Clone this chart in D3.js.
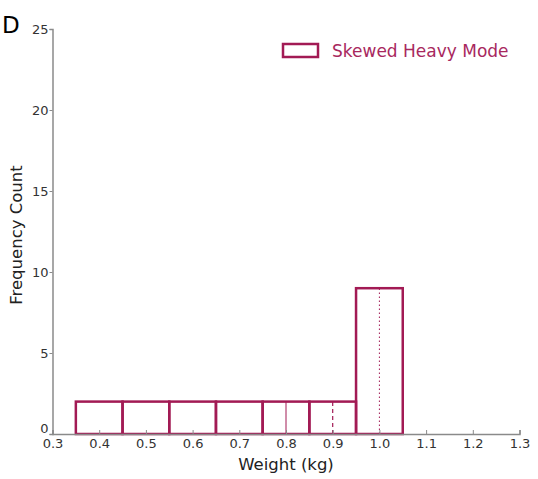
<!DOCTYPE html>
<html>
<head>
<meta charset="utf-8">
<script src="https://cdn.jsdelivr.net/npm/d3@7"></script>
<style>
  body { margin: 0; background: #fff; }
  text { font-family: "DejaVu Sans", sans-serif; }
</style>
</head>
<body>
<div id="chart"></div>
<script>
// bin edges and counts
const binStarts = [0.35, 0.45, 0.55, 0.65, 0.75, 0.85, 0.95, 1.05, 1.15];
const binCounts = [2, 2, 2, 2, 2, 2, 9, 0, 0];
const binWidth = 0.1;
const xTicks = [0.3, 0.4, 0.5, 0.6, 0.7, 0.8, 0.9, 1.0, 1.1, 1.2, 1.3];
const yTicks = [0, 5, 10, 15, 20, 25];
// marker lines: value, height, style
const markers = [
    {value: 0.8, count: 2, dash: null, w: 1},
    {value: 0.9, count: 2, dash: "4,3", w: 1.2},
    {value: 1.0, count: 9, dash: "1.5,2.5", w: 1}
];

const col = "#a21a54";
const axisCol = "#8a8a8a";

const svg = d3.select("#chart").append("svg")
    .attr("width", 538)
    .attr("height", 479);

const x = d3.scaleLinear().domain([0.3, 1.3]).range([52.5, 519.5]);
const y = d3.scaleLinear().domain([0, 25]).range([434, 29]);

/* bars */
svg.selectAll(".bar")
    .data(binStarts)
    .enter().append("rect")
    .attr("class", "bar")
    .attr("x", function(d) { return x(d); })
    .attr("y", function(d, i) { return y(binCounts[i]); })
    .attr("width", function(d) { return x(d + binWidth) - x(d); })
    .attr("height", function(d, i) { return y(0) - y(binCounts[i]); })
    .attr("fill", "none")
    .attr("stroke", col)
    .attr("stroke-width", 2.5);

/* marker lines */
svg.selectAll(".marker")
    .data(markers)
    .enter().append("line")
    .attr("x1", function(d) { return x(d.value); })
    .attr("x2", function(d) { return x(d.value); })
    .attr("y1", y(0))
    .attr("y2", function(d) { return y(d.count); })
    .attr("stroke", col)
    .attr("stroke-width", function(d) { return d.w; })
    .attr("stroke-dasharray", function(d) { return d.dash; });

/* axes */
const xAxis = svg.append("g")
    .attr("transform", "translate(0," + y(0) + ")")
    .call(d3.axisBottom(x).tickValues(xTicks).tickSize(-4).tickPadding(5)
        .tickFormat(d3.format(".1f")));
const yAxis = svg.append("g")
    .attr("transform", "translate(" + x(0.3) + ",0)")
    .call(d3.axisLeft(y).tickValues(yTicks).tickSize(3).tickPadding(1));

[xAxis, yAxis].forEach(function(a) {
    a.select(".domain").attr("stroke", axisCol).attr("stroke-width", 1.5);
    a.selectAll(".tick line").attr("stroke", axisCol);
    a.selectAll(".tick text").attr("fill", "#333").style("font-size", "13px")
        .style("font-family", "DejaVu Sans, sans-serif");
});
yAxis.selectAll(".tick text").filter(function(d) { return d === 0; })
    .attr("dy", "-0.1em");

/* axis labels */
svg.append("text")
    .attr("x", 286)
    .attr("y", 470)
    .attr("text-anchor", "middle")
    .attr("fill", "#222")
    .style("font-size", "16.5px")
    .text("Weight (kg)");

svg.append("text")
    .attr("transform", "translate(22,235) rotate(-90)")
    .attr("text-anchor", "middle")
    .attr("fill", "#222")
    .style("font-size", "16.5px")
    .text("Frequency Count");

/* legend */
svg.append("rect")
    .attr("x", 283)
    .attr("y", 44)
    .attr("width", 35)
    .attr("height", 13)
    .attr("fill", "none")
    .attr("stroke", col)
    .attr("stroke-width", 2.5);
svg.append("text")
    .attr("x", 332)
    .attr("y", 57)
    .attr("fill", "#a8285e")
    .style("font-size", "17px")
    .text("Skewed Heavy Mode");

/* panel letter */
svg.append("text")
    .attr("x", 2)
    .attr("y", 33)
    .attr("fill", "#000")
    .style("font-size", "23px")
    .text("D");
</script>
</body>
</html>
